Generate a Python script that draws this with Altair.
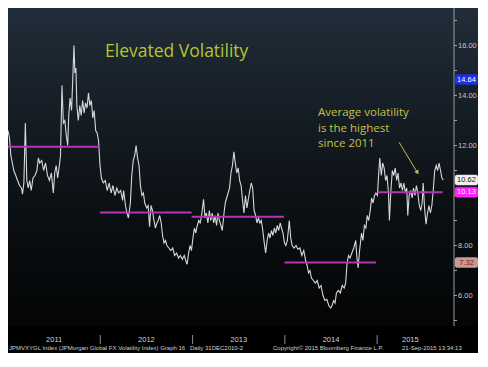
import altair as alt
import pandas as pd

# ---- data ----
# time as years elapsed since 1 Jan 2011
T_OFFSET = [
    0.000, 0.016, 0.031, 0.047, 0.063, 0.084, 0.104, 0.125, 0.146, 0.157,
    0.172, 0.188, 0.204, 0.219, 0.235, 0.251, 0.271, 0.292, 0.313, 0.329,
    0.344, 0.365, 0.386, 0.407, 0.428, 0.449, 0.470, 0.491, 0.506, 0.522,
    0.538, 0.553, 0.569, 0.585, 0.600, 0.616, 0.632, 0.647, 0.658, 0.673,
    0.689, 0.705, 0.715, 0.725, 0.736, 0.746, 0.762, 0.778, 0.793, 0.809,
    0.825, 0.840, 0.856, 0.872, 0.887, 0.903, 0.919, 0.934, 0.950, 0.966,
    0.981, 0.997, 1.012, 1.033, 1.054, 1.075, 1.096, 1.117, 1.138, 1.159,
    1.179, 1.200, 1.221, 1.242, 1.253, 1.273, 1.289, 1.305, 1.326, 1.341,
    1.357, 1.373, 1.388, 1.404, 1.420, 1.435, 1.451, 1.467, 1.482, 1.503,
    1.519, 1.534, 1.550, 1.566, 1.581, 1.597, 1.613, 1.628, 1.644, 1.660,
    1.675, 1.691, 1.707, 1.722, 1.743, 1.764, 1.785, 1.806, 1.827, 1.848,
    1.868, 1.889, 1.910, 1.926, 1.941, 1.957, 1.973, 1.988, 2.004, 2.020,
    2.035, 2.051, 2.067, 2.082, 2.098, 2.119, 2.135, 2.150, 2.166, 2.182,
    2.197, 2.213, 2.229, 2.244, 2.260, 2.275, 2.291, 2.307, 2.322, 2.338,
    2.354, 2.369, 2.385, 2.401, 2.416, 2.432, 2.448, 2.463, 2.479, 2.495,
    2.510, 2.526, 2.542, 2.557, 2.573, 2.589, 2.604, 2.620, 2.636, 2.651,
    2.667, 2.683, 2.698, 2.714, 2.730, 2.745, 2.761, 2.777, 2.792, 2.808,
    2.824, 2.839, 2.855, 2.871, 2.886, 2.902, 2.917, 2.933, 2.949, 2.964,
    2.980, 2.996, 3.011, 3.027, 3.048, 3.064, 3.079, 3.100, 3.121, 3.142,
    3.163, 3.184, 3.205, 3.225, 3.241, 3.257, 3.272, 3.288, 3.309, 3.330,
    3.351, 3.372, 3.392, 3.413, 3.434, 3.455, 3.476, 3.497, 3.512, 3.528,
    3.544, 3.559, 3.580, 3.601, 3.622, 3.643, 3.659, 3.674, 3.690, 3.706,
    3.726, 3.747, 3.768, 3.779, 3.794, 3.810, 3.831, 3.846, 3.862, 3.878,
    3.893, 3.909, 3.925, 3.940, 3.956, 3.972, 3.987, 4.003, 4.019, 4.029,
    4.045, 4.060, 4.076, 4.092, 4.107, 4.123, 4.133, 4.149, 4.165, 4.180,
    4.196, 4.212, 4.227, 4.243, 4.259, 4.274, 4.290, 4.306, 4.321, 4.332,
    4.347, 4.363, 4.379, 4.394, 4.410, 4.426, 4.441, 4.457, 4.473, 4.488,
    4.499, 4.514, 4.530, 4.546, 4.561, 4.577, 4.593, 4.608, 4.624, 4.640,
    4.655, 4.671, 4.687, 4.702, 4.718,
]
VOL = [
    12.6, 12.3, 11.6, 11.3, 11.0, 10.8, 10.6, 10.4, 10.3, 10.05,
    10.5, 12.9, 10.6, 10.3, 10.6, 10.2, 10.7, 10.8, 11.0, 11.5,
    11.3, 11.4, 11.0, 11.3, 10.8, 10.6, 10.9, 10.1, 10.9, 11.2,
    10.7, 11.1, 11.6, 14.4, 12.9, 13.0, 12.4, 12.0, 13.2, 13.9,
    13.4, 15.0, 16.0, 14.9, 15.1, 13.6, 13.0, 13.6, 13.2, 13.8,
    13.3, 13.7, 13.5, 14.1, 13.6, 13.8, 13.1, 13.4, 12.6, 12.5,
    12.2, 11.2, 10.7, 10.5, 10.6, 10.2, 10.5, 10.1, 10.4, 10.0,
    10.3, 10.1, 10.2, 9.8, 10.2, 9.6, 9.3, 9.1, 9.7, 10.8,
    11.4, 11.6, 12.0, 11.5, 11.2, 10.4, 10.0, 10.1, 9.7, 9.5,
    9.6, 8.75, 9.6, 9.4, 9.0, 8.7, 8.9, 9.0, 9.2, 8.9,
    8.4, 8.1, 8.2, 8.0, 7.9, 7.8, 7.9, 7.6, 7.7, 7.5,
    7.6, 7.45, 7.6, 7.4, 7.25, 7.7, 8.0, 7.8, 8.3, 8.7,
    8.5, 8.8, 9.0, 8.9, 9.2, 9.85, 9.1, 9.3, 8.9, 9.4,
    9.0, 9.3, 8.9, 9.2, 8.8, 9.3, 9.0, 8.8, 8.6, 9.2,
    9.7, 9.9, 10.1, 10.3, 10.9, 11.2, 11.75, 11.3, 10.9, 11.1,
    10.6, 10.4, 9.8, 9.3, 10.0, 9.5, 9.85, 10.2, 10.5, 10.3,
    9.4, 9.2, 8.9, 9.1, 8.9, 9.0, 8.6, 8.1, 7.7, 8.2,
    8.5, 8.3, 8.6, 8.4, 8.7, 8.5, 8.8, 8.6, 8.9, 8.7,
    8.5, 8.1, 8.0, 8.2, 9.0, 8.3, 8.0, 7.9, 8.0, 7.85,
    7.9, 7.6, 7.8, 7.4, 7.2, 6.9, 7.0, 6.7, 6.6, 6.5,
    6.6, 6.3, 6.4, 6.0, 5.8, 5.85, 5.6, 5.5, 5.6, 5.8,
    5.7, 6.1, 6.2, 6.1, 6.4, 6.3, 6.5, 7.3, 7.6, 7.5,
    7.7, 7.9, 8.2, 7.6, 7.1, 7.8, 8.5, 8.2, 8.8, 8.7,
    9.2, 9.0, 9.4, 9.9, 9.7, 10.0, 10.1, 10.0, 11.0, 11.5,
    10.8, 11.3, 11.1, 10.6, 10.8, 10.1, 9.0, 10.2, 11.0, 10.8,
    11.1, 10.6, 10.9, 10.3, 10.5, 10.2, 10.5, 10.1, 10.3, 9.2,
    10.0, 10.2, 9.9, 10.3, 10.0, 10.4, 10.1, 9.6, 9.4, 9.7,
    10.5, 9.5, 8.85, 9.3, 9.6, 9.3, 9.6, 10.2, 11.0, 11.2,
    11.0, 11.3, 11.0, 10.7, 10.62,
]

# yearly averages (magenta segments)
AVG_START = [0.000, 0.997, 1.990, 2.996, 4.003]
AVG_END = [0.997, 1.990, 2.990, 3.987, 4.710]
AVG_VALUE = [11.95, 9.32, 9.15, 7.32, 10.13]

YEARS = [2011, 2012, 2013, 2014, 2015]
YEAR_LABEL_POS = [0.5, 1.5, 2.5, 3.5, 4.36]
YEAR_BOUNDARIES = [1, 2, 3, 4]

# right value axis
Y_TICKS = [5, 6, 7, 8, 9, 10, 11, 12, 13, 14, 15, 16, 17]
Y_LABELS = [6, 8, 12, 14, 16]

TAG_VALUES = [14.64, 10.62, 10.13, 7.32]
TAG_TEXTS = ["14.64", "10.62", "10.13", "7.32"]

ARROW_FROM = (4.238, 12.13)
ARROW_TO = (4.436, 10.92)

NOTE_LINES = ["Average volatility", "is the highest", "since 2011"]

BASE = 2011
FOOTER = [
    "JPMVXYGL Index (JPMorgan Global FX Volatility Index) Graph 16",
    "Daily 31DEC2010-2",
    "Copyright\u00a9 2015 Bloomberg Finance L.P.",
    "21-Sep-2015 13:34:13",
]

# ---- styles / layout ----
W, H = 446, 345
STRIP_TOP = 318
TAG_STYLE = [("#1e2ee0", "#ffffff"), ("#f2f2f2", "#111111"),
             ("#ff22ff", "#ffffff"), ("#c99a92", "#6a1a1a")]
FOOTER_X = [1, 182, 265, 394]
NOTE_Y = [105, 120.7, 136.4]

xs = alt.Scale(domain=[BASE, BASE + 4.833], nice=False, zero=False)
ys = alt.Scale(domain=[3.70, 17.50], nice=False, zero=False)

series = pd.DataFrame({"t": [BASE + t for t in T_OFFSET], "v": VOL})
avgs = pd.DataFrame({"t0": [BASE + a for a in AVG_START],
                     "t1": [BASE + b for b in AVG_END], "v": AVG_VALUE})
one = pd.DataFrame({"a": [0]})

bg = alt.Chart(one).mark_rect(
    color=alt.LinearGradient(
        gradient="linear", x1=0, x2=0, y1=0, y2=1,
        stops=[alt.GradientStop(color="#212d39", offset=0),
               alt.GradientStop(color="#0c1115", offset=0.6),
               alt.GradientStop(color="#030405", offset=1)])
).encode(x=alt.value(0), x2=alt.value(W + 24), y=alt.value(0), y2=alt.value(STRIP_TOP))

month_ticks = [BASE + m / 12 for m in range(0, 59)]

line = alt.Chart(series).mark_line(color="#d8d8d8", strokeWidth=1.1).encode(
    x=alt.X("t:Q", scale=xs, axis=alt.Axis(
        orient="bottom", offset=-(H - STRIP_TOP - 1), values=month_ticks,
        labels=False, tickSize=2, tickColor="#8a8a8a", tickWidth=1,
        domainColor="#3a3a3a", grid=False, title=None, zindex=1)),
    y=alt.Y("v:Q", scale=ys, axis=None),
)

yaxis_line = alt.Chart(one).mark_rule(color="#9a9a9a", strokeWidth=1).encode(
    x=alt.value(W),
    y=alt.datum(17.5, scale=ys, axis=None),
    y2=alt.datum(3.70 + (H - STRIP_TOP) / 25.0))

ytick_marks = alt.Chart(pd.DataFrame({"v": Y_TICKS})).mark_rule(
    color="#a0a0a0", strokeWidth=1).encode(
    x=alt.value(W), x2=alt.value(W + 3), y=alt.Y("v:Q", scale=ys, axis=None))

ytick_labels = alt.Chart(pd.DataFrame({"v": Y_LABELS})).transform_calculate(
    lab="format(datum.v, '.2f')").mark_text(
    color="#c8c8c8", fontSize=7.5, font="Liberation Sans", align="left",
    baseline="middle").encode(
    x=alt.value(W + 4), y=alt.Y("v:Q", scale=ys, axis=None), text="lab:N")

avg_rules = alt.Chart(avgs).mark_rule(color="#b734b7", strokeWidth=2).encode(
    x=alt.X("t0:Q", scale=xs, axis=None), x2="t1:Q",
    y=alt.Y("v:Q", scale=ys, axis=None))

seps = alt.Chart(pd.DataFrame({"t": [BASE + b for b in YEAR_BOUNDARIES]})).mark_rule(
    color="#8a8a8a", strokeWidth=1).encode(
    x=alt.X("t:Q", scale=xs, axis=None), y=alt.value(327), y2=alt.value(336))

year_labels = alt.Chart(pd.DataFrame({
    "t": [BASE + p for p in YEAR_LABEL_POS], "lab": [str(y) for y in YEARS]})).mark_text(
    color="#d0d0d0", fontSize=7.5, font="Liberation Sans", baseline="middle").encode(
    x=alt.X("t:Q", scale=xs, axis=None), y=alt.value(331.5), text="lab:N")

footer_layers = [
    alt.Chart(one).mark_text(text=txt, color="#cfcfcf", fontSize=6,
                             font="Liberation Sans", align="left",
                             baseline="middle").encode(
        x=alt.value(fx), y=alt.value(339.5))
    for txt, fx in zip(FOOTER, FOOTER_X)
]

title = alt.Chart(one).mark_text(
    text="Elevated Volatility", color="#b6c42f", fontSize=17.5, font="Open Sans",
    align="left", baseline="middle").encode(x=alt.value(97), y=alt.value(44))

note_layers = [
    alt.Chart(one).mark_text(
        text=txt, color="#c3c24a", fontSize=11.5, font="Open Sans", align="left",
        baseline="middle").encode(x=alt.value(310), y=alt.value(ny))
    for txt, ny in zip(NOTE_LINES, NOTE_Y)
]

arrow_df = pd.DataFrame({"x0": [BASE + ARROW_FROM[0]], "y0": [ARROW_FROM[1]],
                         "x1": [BASE + ARROW_TO[0]], "y1": [ARROW_TO[1]]})
arrow_line = alt.Chart(arrow_df).mark_rule(color="#c3c24a", strokeWidth=1).encode(
    x=alt.X("x0:Q", scale=xs, axis=None), x2="x1:Q",
    y=alt.Y("y0:Q", scale=ys, axis=None), y2="y1:Q")
arrow_head = alt.Chart(arrow_df).mark_point(
    shape="triangle-up", angle=149, size=22, filled=True, color="#c3c24a", opacity=1
).encode(x=alt.X("x1:Q", scale=xs, axis=None), y=alt.Y("y1:Q", scale=ys, axis=None))

tag_layers = []
for val, txt, (fill, tcol) in zip(TAG_VALUES, TAG_TEXTS, TAG_STYLE):
    d = pd.DataFrame({"v": [val], "lab": [txt]})
    tag_layers.append(alt.Chart(d).transform_calculate(
        lo="datum.v - 0.2", hi="datum.v + 0.2").mark_rect(
        color=fill, cornerRadius=2, stroke="#dddddd" if fill == "#f2f2f2" else fill,
        strokeWidth=0.5).encode(
        x=alt.value(W + 1), x2=alt.value(W + 24),
        y=alt.Y("lo:Q", scale=ys, axis=None), y2="hi:Q"))
    tag_layers.append(alt.Chart(d).mark_text(
        color=tcol, fontSize=7.5, font="Liberation Sans", align="center",
        baseline="middle").encode(
        x=alt.value(W + 12.5), y=alt.Y("v:Q", scale=ys, axis=None), text="lab:N"))

chart = alt.layer(
    bg, line, avg_rules, yaxis_line, ytick_marks, ytick_labels, seps, year_labels,
    title, *note_layers, arrow_line, arrow_head, *footer_layers, *tag_layers
).properties(
    width=W, height=H, background="#000000",
    autosize=alt.AutoSizeParams(type="none"),
    padding={"left": 0, "top": 0, "right": 24, "bottom": 0},
).configure_view(stroke=None)

chart.save("out.html", embed_options={"renderer": "svg", "actions": False})
